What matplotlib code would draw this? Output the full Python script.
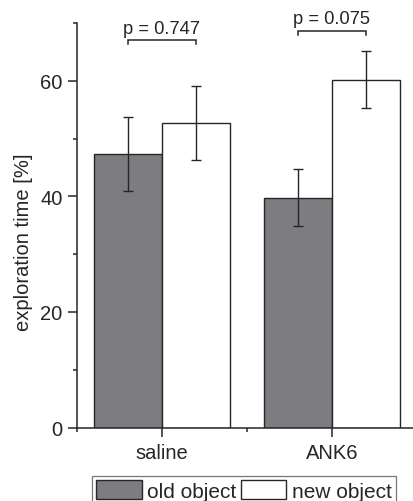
import matplotlib
matplotlib.use("Agg")
import matplotlib.pyplot as plt
from matplotlib.ticker import MultipleLocator
import numpy as np

# Data
groups = ["saline", "ANK6"]
series_names = ["old object", "new object"]
old_mean = [47.4, 39.8]
old_err = [6.4, 4.9]
new_mean = [52.7, 60.2]
new_err = [6.35, 4.9]
p_labels = ["p = 0.747", "p = 0.075"]

plt.rcParams["font.family"] = ["Liberation Sans", "DejaVu Sans"]
ink = "#262626"

fig = plt.figure(figsize=(4.14, 5.02), dpi=100)
ax = fig.add_axes([77 / 414, 73.5 / 502, 340 / 414, 404.5 / 502])

x = np.arange(1, len(groups) + 1)
w = 0.4
bar_kw = dict(width=w, edgecolor=ink, linewidth=1.0, zorder=2)
err_kw = dict(ecolor=ink, elinewidth=1.0, capsize=3.6, capthick=1.0)
b_old = ax.bar(x - w / 2, old_mean, color="#7c7c81", yerr=old_err,
               error_kw=err_kw, label=series_names[0], **bar_kw)
b_new = ax.bar(x + w / 2, new_mean, color="white", yerr=new_err,
               error_kw=err_kw, label=series_names[1], **bar_kw)

ax.set_xlim(0.5, 2.5)
ax.set_ylim(0, 70)
ax.set_xticks(x)
ax.set_xticklabels(groups)
ax.xaxis.set_minor_locator(MultipleLocator(0.5))
ax.yaxis.set_major_locator(MultipleLocator(20))
ax.yaxis.set_minor_locator(MultipleLocator(10))
ax.set_ylabel("exploration time [%]", fontsize=14.5, color=ink)
ax.yaxis.set_label_coords(-0.128, 0.46)

ax.tick_params(axis="both", which="major", direction="out", length=6.3,
               width=1.1, color=ink, labelsize=14.5, labelcolor=ink, pad=4)
ax.tick_params(axis="x", which="major", pad=5)
ax.tick_params(axis="both", which="minor", direction="out", length=3.2,
               width=1.1, color=ink)
for side in ("top", "right"):
    ax.spines[side].set_visible(False)
for side in ("left", "bottom"):
    ax.spines[side].set_color(ink)
    ax.spines[side].set_linewidth(1.1)

# Significance brackets between the bar centres
bracket_y = [67.0, 68.7]
drop = 0.7
for xi, yb, txt in zip(x, bracket_y, p_labels):
    xl, xr = xi - w / 2, xi + w / 2
    ax.plot([xl, xl, xr, xr], [yb - drop, yb, yb, yb - drop], color=ink,
            lw=1.1, clip_on=False, solid_joinstyle="miter")
    ax.text(xi, yb + 0.6, txt, ha="center", va="bottom", fontsize=13.2,
            color=ink, clip_on=False)

leg = fig.legend(handles=[b_old, b_new], labels=series_names,
                 loc="upper left", bbox_to_anchor=(92 / 414, 1 - 477 / 502),
                 ncol=2, frameon=True, fancybox=False, fontsize=15,
                 handlelength=2.2, handleheight=1.0, handletextpad=0.25,
                 columnspacing=0.2, borderpad=0.2, borderaxespad=0)
leg.get_frame().set_edgecolor("#555555")
leg.get_frame().set_linewidth(0.9)
for t in leg.get_texts():
    t.set_color(ink)

fig.savefig("out.png", dpi=100)
